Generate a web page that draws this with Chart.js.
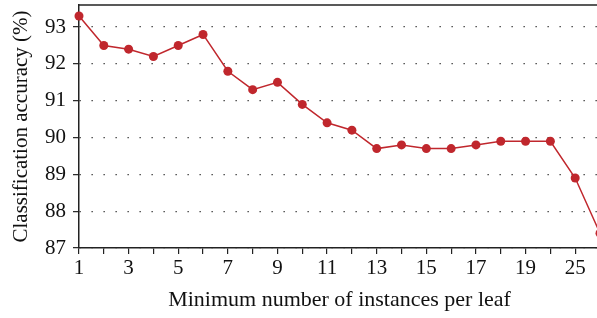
<!DOCTYPE html>
<html>
<head>
<meta charset="utf-8">
<script src="https://cdn.jsdelivr.net/npm/chart.js@4/dist/chart.umd.min.js"></script>
<style>
html,body{margin:0;padding:0;overflow:hidden;background:#fff;}
#wrap{width:622px;height:318px;}
</style>
</head>
<body>
<div id="wrap"><canvas id="c" width="622" height="318"></canvas></div>
<script>
const categories = ['1','2','3','4','5','6','7','8','9','10','11','12','13','14','15','16','17','18','19','20','25','30'];
const accuracy = [93.3,92.5,92.4,92.2,92.5,92.8,91.8,91.3,91.5,90.9,90.4,90.2,89.7,89.8,89.7,89.7,89.8,89.9,89.9,89.9,88.9,87.4];
const yMin = 87, yMax = 93.6;
const xTitle = 'Minimum number of instances per leaf';
const yTitle = 'Classification accuracy (%)';

const FONT = '"Liberation Serif", "DejaVu Serif", serif';

const topBorder = {
  id: 'topBorder',
  afterDraw(chart) {
    const a = chart.chartArea, ctx = chart.ctx;
    ctx.save();
    ctx.strokeStyle = '#222';
    ctx.lineWidth = 1.5;
    ctx.beginPath();
    ctx.moveTo(a.left, a.top);
    ctx.lineTo(a.right + 30, a.top);
    ctx.stroke();
    ctx.restore();
  }
};

new Chart(document.getElementById('c'), {
  type: 'line',
  data: {
    labels: categories,
    datasets: [{
      data: accuracy,
      borderColor: '#c0272d',
      backgroundColor: '#c0272d',
      borderWidth: 1.5,
      pointRadius: 4.5,
      pointHoverRadius: 4.5,
      pointBorderWidth: 0,
      tension: 0,
      clip: false
    }]
  },
  options: {
    responsive: false,
    animation: false,
    devicePixelRatio: 1,
    layout: { padding: { top: 5, right: 22, left: 0, bottom: 0 } },
    plugins: { legend: { display: false }, tooltip: { enabled: false } },
    scales: {
      x: {
        type: 'category',
        offset: false,
        afterFit: s => { s.height = 70; s.paddingLeft = 0; s.paddingRight = 0; },
        grid: { drawOnChartArea: false, drawTicks: true, tickLength: 6, color: '#222', lineWidth: 1.2 },
        border: { display: true, color: '#222', width: 1.5 },
        ticks: {
          autoSkip: false, maxRotation: 0, padding: 2, color: '#111',
          font: { family: FONT, size: 21 },
          callback: function(v, i) { return (i % 2 === 0 && i <= 20) ? categories[i] : ''; }
        },
        title: { display: true, text: xTitle, color: '#111', font: { family: FONT, size: 22 }, padding: { top: 4, bottom: 5 } }
      },
      y: {
        min: yMin, max: yMax,
        afterFit: s => { s.width = 79; s.paddingTop = 0; s.paddingBottom = 0; },
        grid: { color: '#333', lineWidth: 1.3, drawTicks: true, tickLength: 6, tickColor: '#222', tickBorderDash: [], tickWidth: 1.2 },
        border: { display: true, color: '#222', width: 1.5, dash: [1.3, 10.7], dashOffset: 0 },
        ticks: { stepSize: 1, includeBounds: false, padding: 7, color: '#111', font: { family: FONT, size: 21 } },
        title: { display: true, text: yTitle, color: '#111', font: { family: FONT, size: 21 }, padding: { top: 9, bottom: 0 } }
      }
    }
  },
  plugins: [topBorder]
});
</script>
</body>
</html>
